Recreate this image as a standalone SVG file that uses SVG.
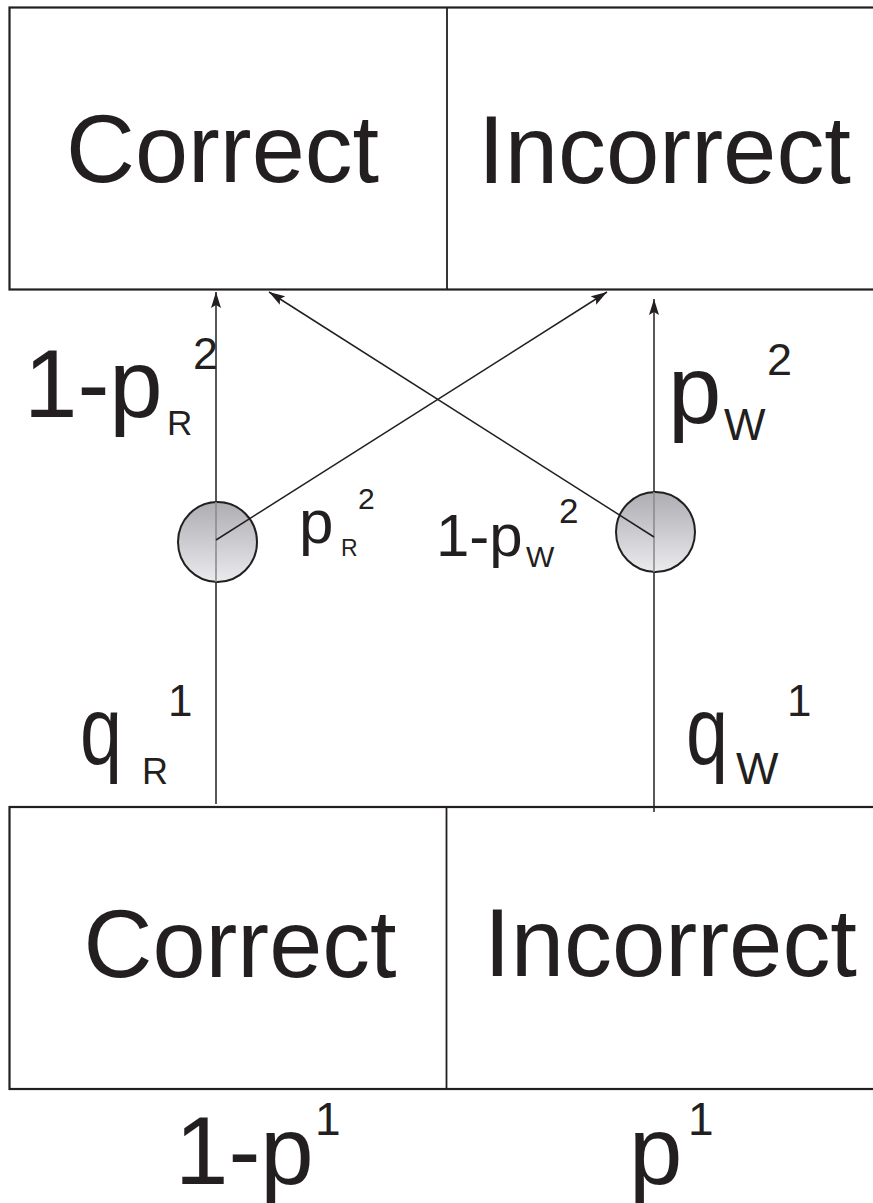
<svg xmlns="http://www.w3.org/2000/svg" width="873" height="1203" viewBox="0 0 873 1203">
<style>
.box{fill:#fff;stroke:#231f20;stroke-width:2.2}
.div{stroke:#231f20;stroke-width:1.8}
.big{font-family:"Liberation Sans",Arial,sans-serif;fill:#231f20}
.conn{stroke:#231f20;stroke-width:1.5;fill:none}
.arr{marker-end:url(#ah)}
.node{fill:url(#g);stroke:#231f20;stroke-width:2}
.inner{stroke:#8c8c8c;stroke-width:1.6}
</style>
<defs>
<marker id="ah" markerUnits="userSpaceOnUse" markerWidth="18" markerHeight="12" refX="16" refY="5" orient="auto">
<path d="M0,0 L16,5 L0,10 L3,5 Z" fill="#231f20"/>
</marker>
<linearGradient id="g" x1="0" y1="0" x2="0" y2="1">
<stop offset="0" stop-color="#adadb2"/>
<stop offset="1" stop-color="#ebebee"/>
</linearGradient>
</defs>
<rect width="873" height="1203" fill="#fff"/>
<g id="top-boxes">
<rect class="box" x="9.5" y="7.5" width="880" height="282"/>
<line class="div" x1="447" y1="7.5" x2="447" y2="289.5"/>
<text class="big" x="66" y="182" font-size="96" textLength="313" lengthAdjust="spacingAndGlyphs">Correct</text>
<text class="big" x="478" y="183" font-size="96" textLength="373" lengthAdjust="spacingAndGlyphs">Incorrect</text>
</g>
<g id="bottom-boxes">
<rect class="box" x="9.5" y="807" width="880" height="282"/>
<line class="div" x1="446.5" y1="807" x2="446.5" y2="1089"/>
<text class="big" x="83.5" y="977" font-size="96" textLength="313" lengthAdjust="spacingAndGlyphs">Correct</text>
<text class="big" x="484" y="976" font-size="96" textLength="373" lengthAdjust="spacingAndGlyphs">Incorrect</text>
</g>
<g id="connectors">
<line class="conn arr" x1="216" y1="804" x2="216" y2="292"/>
<line class="conn arr" x1="654" y1="812" x2="654" y2="299"/>
</g>
<g id="node-left">
<ellipse class="node" cx="217.5" cy="542" rx="39.5" ry="40"/>
<line class="inner" x1="216" y1="502" x2="216" y2="582"/>
</g>
<g id="node-right">
<ellipse class="node" cx="655.5" cy="532" rx="39.5" ry="40"/>
<line class="inner" x1="654" y1="492" x2="654" y2="572"/>
</g>
<g id="connectors-diag">
<line class="conn arr" x1="216" y1="540" x2="607" y2="292"/>
<line class="conn arr" x1="654" y1="537" x2="269" y2="292"/>
</g>
<g id="labels" class="big">
<text x="24" y="417" font-size="96">1-p</text>
<text x="167" y="435" font-size="35">R</text>
<text x="193" y="369" font-size="45">2</text>

<text x="668" y="423" font-size="96">p</text>
<text x="724" y="440" font-size="44">W</text>
<text x="767" y="375" font-size="45">2</text>

<text x="299" y="543" font-size="62">p</text>
<text x="341" y="556" font-size="23">R</text>
<text x="358" y="509" font-size="30">2</text>

<text x="436" y="556" font-size="60">1-p</text>
<text x="526" y="567" font-size="30">W</text>
<text x="559" y="523" font-size="35">2</text>

<text x="80" y="764" font-size="96" textLength="42" lengthAdjust="spacingAndGlyphs">q</text>
<text x="142" y="784" font-size="36">R</text>
<text x="168" y="716" font-size="44">1</text>

<text x="686" y="764" font-size="96" textLength="42" lengthAdjust="spacingAndGlyphs">q</text>
<text x="736" y="784" font-size="45">W</text>
<text x="787" y="716" font-size="44">1</text>

<text x="175" y="1184" font-size="96">1-p</text>
<text x="315" y="1135" font-size="46">1</text>

<text x="629" y="1184" font-size="96">p</text>
<text x="688" y="1135" font-size="46">1</text>
</g>
</svg>
